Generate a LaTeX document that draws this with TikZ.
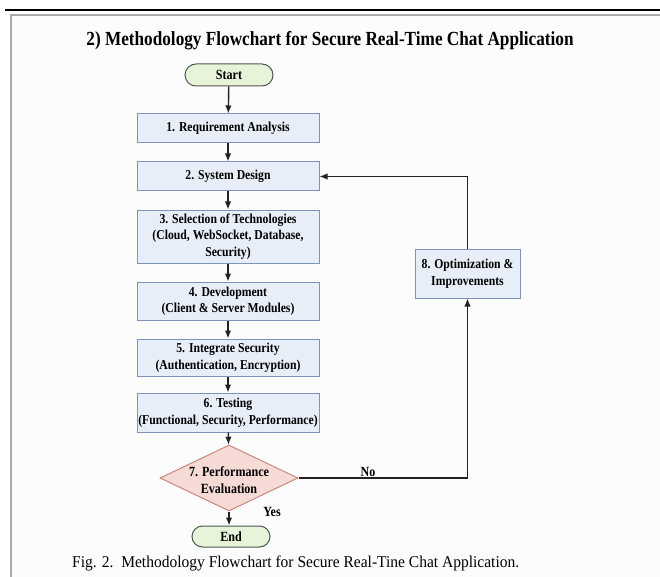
\documentclass[tikz,border=0pt]{standalone}
\usepackage{fontspec}
\setmainfont{Liberation Serif}
\newfontfamily\condserif[FakeStretch=0.86]{Liberation Serif}
\newfontfamily\capserif[FakeStretch=0.94]{Liberation Serif}
\usetikzlibrary{shapes.geometric,shapes.misc,arrows.meta}

\definecolor{boxfill}{HTML}{E8EEF8}
\definecolor{boxline}{HTML}{7C93BB}
\definecolor{decfill}{HTML}{F6DAD5}
\definecolor{decline}{HTML}{C98880}
\definecolor{termfill}{HTML}{E7F4DA}
\definecolor{termline}{HTML}{4E574E}
\definecolor{wire}{HTML}{222222}
\definecolor{framegray}{HTML}{AAAAAA}
\definecolor{paper}{HTML}{FCFCFC}

\tikzset{
  stepbox/.style={draw=boxline, fill=boxfill, line width=1pt, rectangle,
    minimum width=182pt, align=center, inner xsep=0.5pt, inner ysep=2pt,
    font=\condserif\bfseries\fontsize{13.6}{16.5}\selectfont},
  termbox/.style={draw=termline, fill=termfill, line width=1pt, rounded rectangle,
    inner sep=0pt, font=\condserif\bfseries\fontsize{14}{16}\selectfont},
  decbox/.style={draw=decline, fill=decfill, line width=1pt, diamond, inner sep=0pt},
  txt/.style={align=center, inner sep=0pt, font=\condserif\bfseries\fontsize{14}{16.5}\selectfont},
  flow/.style={draw=wire, line width=1.4pt, -{Latex[length=8pt,width=6.5pt]}},
}

\begin{document}
\begin{tikzpicture}[x=1pt,y=-1pt]
  \useasboundingbox (0,0) rectangle (660,577);
  % page frame
  \fill[paper] (11,15) rectangle (660,577);
  \draw[line width=1.6pt] (5,10) -- (660,10);
  \draw[framegray, line width=1.5pt] (11,577) -- (11,15) -- (660,15);

  % title
  \node[inner sep=0pt, anchor=base, font=\condserif\bfseries\fontsize{20}{24}\selectfont] (title) at (330,46)
    {2) Methodology Flowchart for Secure Real-Time Chat Application};

  % main column
  \node[termbox, minimum width=88pt, minimum height=22pt] (start) at (229,75) {Start};
  \node[stepbox, minimum height=29pt] (s1) at (228,128.5) {1. Requirement Analysis};
  \node[stepbox, minimum height=29pt] (s2) at (228,176.5) {2. System Design};
  \node[stepbox, minimum height=53pt] (s3) at (228,236.5)
    {3. Selection of Technologies\\(Cloud, WebSocket, Database,\\Security)};
  \node[stepbox, minimum height=38pt] (s4) at (228,301) {4. Development\\(Client \& Server Modules)};
  \node[stepbox, minimum height=37pt] (s5) at (228,357.5) {5. Integrate Security\\(Authentication, Encryption)};
  \node[stepbox, minimum height=39pt] (s6) at (228,412.5) {6. Testing\\(Functional, Security, Performance)};
  \node[decbox, minimum width=138pt, minimum height=66pt] (d7) at (229,478) {};
  \node[txt] (d7t) at (229,480) {7. Performance\\Evaluation};
  \node[termbox, minimum width=78pt, minimum height=21pt] (end) at (231,536.5) {End};

  % side branch
  \node[stepbox, minimum width=105pt, minimum height=49pt] (s8) at (467.5,273.5)
    {8. Optimization \&\\Improvements};

  % connectors
  \draw[flow] (start) -- (s1);
  \draw[flow] (s1) -- (s2);
  \draw[flow] (s2) -- (s3);
  \draw[flow] (s3) -- (s4);
  \draw[flow] (s4) -- (s5);
  \draw[flow] (s5) -- (s6);
  \draw[flow] (s6) -- (d7);
  \draw[flow] (d7.south) -- (d7.south |- end.north);
  \draw[flow] (d7.east) -| (s8.south);
  \draw[flow] (s8.north) |- (s2.east);

  % branch labels
  \node[txt] (yes) at (272,512) {Yes};
  \node[txt] (no) at (368,472) {No};

  % caption
  \node[inner sep=0pt, anchor=base west, font=\capserif\fontsize{16.5}{19}\selectfont] (caption) at (72,567)
    {Fig. 2.\ \ Methodology Flowchart for Secure Real-Tine Chat Application.};
\end{tikzpicture}
\end{document}
